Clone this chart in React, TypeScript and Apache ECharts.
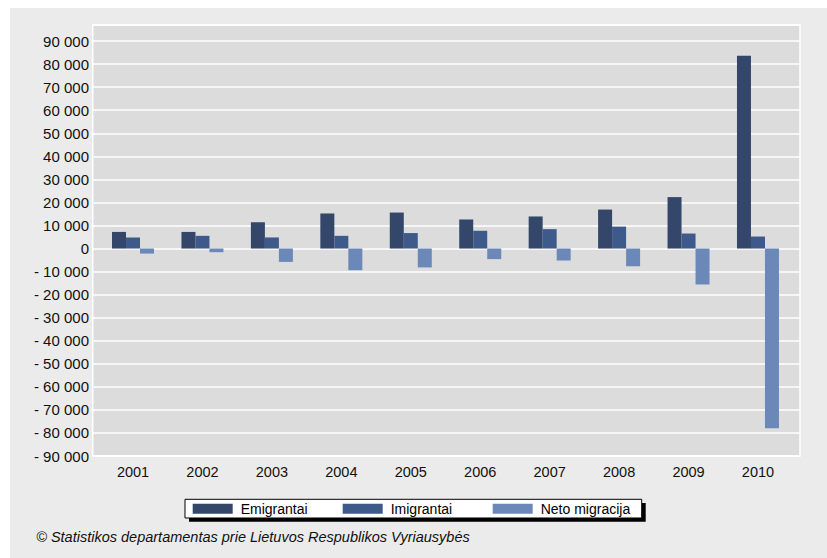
import React, { useEffect, useRef } from "react";
import * as echarts from "echarts";

const years = ["2001", "2002", "2003", "2004", "2005", "2006", "2007", "2008", "2009", "2010"];
const emigrantai = [7200, 7200, 11400, 15200, 15600, 12600, 13900, 16900, 22300, 83600];
const imigrantai = [4800, 5500, 4800, 5500, 6700, 7700, 8400, 9500, 6500, 5200];
const netoMigracija = [-2200, -1600, -5800, -9400, -8200, -4600, -5200, -7700, -15600, -78000];
const seriesNames = ["Emigrantai", "Imigrantai", "Neto migracija"];
const seriesColors = ["#34476b", "#3e5a8a", "#6c88b8"];
const yMin = -90000;
const yMax = 97000;
const yStep = 10000;
const footer = "© Statistikos departamentas prie Lietuvos Respublikos Vyriausybės";

const FONT = "'Liberation Sans', Arial, sans-serif";

function fmtNum(v: number): string {
  const s = String(Math.round(Math.abs(v)));
  const parts: string[] = [];
  for (let i = s.length; i > 0; i -= 3) parts.unshift(s.substring(Math.max(0, i - 3), i));
  const body = parts.join(" ");
  return v < 0 ? "- " + body : body;
}

export default function App() {
  const ref = useRef<HTMLDivElement>(null);

  useEffect(() => {
    document.body.style.margin = "0";
    document.body.style.overflow = "hidden";
    document.body.style.background = "#ffffff";
    if (!ref.current) return;
    const chart = echarts.init(ref.current, undefined, { renderer: "svg" });
    const data = [emigrantai, imigrantai, netoMigracija];
    chart.setOption({
      animation: false,
      backgroundColor: "#ebebeb",
      grid: [
        { left: 88.3, right: 34.3, top: 16.9, bottom: 102, show: false },
        {
          left: 82.7,
          right: 27,
          top: 16.9,
          bottom: 102,
          show: true,
          backgroundColor: "#dcdcdc",
          borderColor: "#ffffff",
          borderWidth: 1.5,
        },
      ],
      xAxis: [
        {
          type: "category",
          gridIndex: 0,
          data: years,
          axisLine: { show: false },
          axisTick: { show: false },
          splitLine: { show: false },
          axisLabel: { fontSize: 14.5, color: "#111111", margin: 8, fontFamily: FONT },
        },
        { type: "category", gridIndex: 1, data: years, show: false },
      ],
      yAxis: [
        { type: "value", gridIndex: 0, min: yMin, max: yMax, interval: yStep, show: false },
        {
          type: "value",
          gridIndex: 1,
          min: yMin,
          max: yMax,
          interval: yStep,
          axisLine: { show: false },
          axisTick: { show: false },
          splitLine: { show: true, lineStyle: { color: "#ffffff", width: 1.5 } },
          axisLabel: {
            fontSize: 15,
            color: "#111111",
            margin: 3.7,
            fontFamily: FONT,
            showMaxLabel: false,
            formatter: (v: number) => fmtNum(v),
          },
        },
      ],
      legend: {
        left: 175,
        top: 491.3,
        orient: "horizontal",
        backgroundColor: "#ffffff",
        borderColor: "#000000",
        borderWidth: 1,
        borderRadius: 0,
        padding: [2, 5, 2, 7.7],
        itemWidth: 40,
        itemHeight: 10,
        itemGap: 6,
        icon: "rect",
        selectedMode: false,
        textStyle: {
          fontSize: 14,
          color: "#000000",
          fontFamily: FONT,
          width: 96,
          lineHeight: 14.7,
          padding: [0, 0, 0, 3],
        },
        data: seriesNames,
      },
      graphic: [
        {
          type: "rect",
          shape: { x: 179, y: 495, width: 456.7, height: 18.7 },
          style: { fill: "#000000" },
          z: 0,
        },
        {
          type: "text",
          x: 26.2,
          y: 528.5,
          style: {
            text: footer,
            fill: "#111111",
            font: "italic 14.5px 'Liberation Sans', Arial, sans-serif",
            verticalAlign: "middle",
            align: "left",
          },
        },
      ],
      series: seriesNames.map((name, i) => ({
        name,
        type: "bar",
        xAxisIndex: 0,
        yAxisIndex: 0,
        data: data[i],
        barWidth: 14,
        barGap: "0%",
        itemStyle: { color: seriesColors[i] },
      })),
    });
    return () => chart.dispose();
  }, []);

  return (
    <div style={{ position: "relative", width: 827, height: 558, background: "#ffffff" }}>
      <div ref={ref} style={{ position: "absolute", left: 10, top: 8, width: 817, height: 550 }} />
    </div>
  );
}
